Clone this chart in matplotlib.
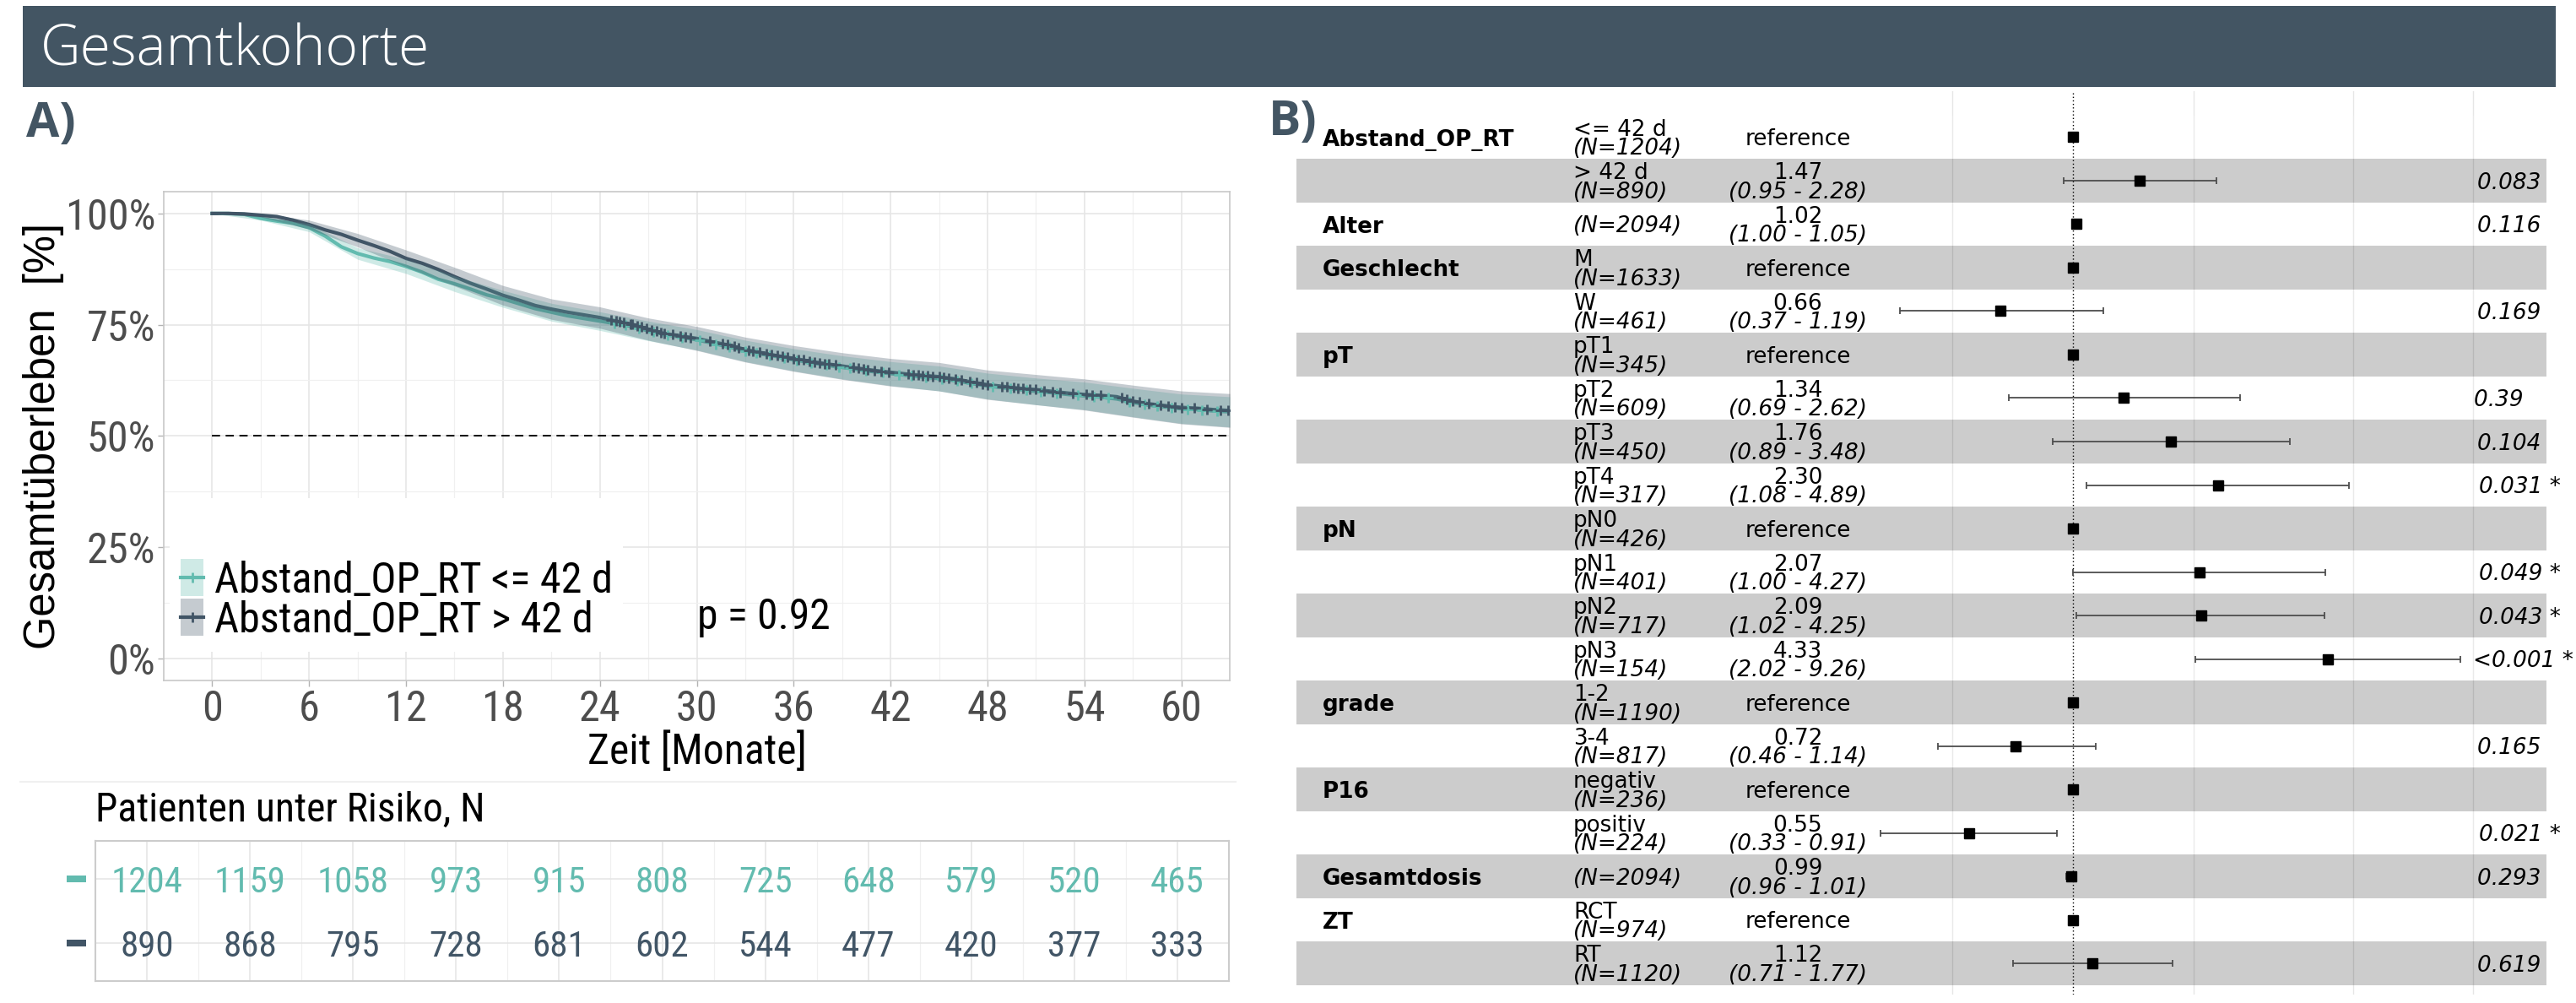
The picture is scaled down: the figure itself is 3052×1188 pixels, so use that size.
import os
import numpy as np
import matplotlib
matplotlib.use("Agg")
import matplotlib.pyplot as plt
import matplotlib.transforms as mtransforms
from matplotlib import font_manager
from matplotlib.font_manager import FontProperties
from matplotlib.textpath import TextPath
from matplotlib.patches import Rectangle
from matplotlib.lines import Line2D

# ------------------------------------------------------------------ data
months = list(range(0, 64))
surv_le42 = [100, 100, 99.8, 98.9, 98.3, 97.8, 96.8, 94.9, 92.5, 91.0,
             90.0, 89.2, 88.1, 86.8, 85.2, 84.2, 83.0, 81.7, 80.8, 79.7,
             78.6, 77.8, 77.0, 76.4, 75.8, 75.2, 74.6, 73.6, 72.8, 72.2,
             71.6, 70.8, 70.0, 69.1, 68.4, 67.8, 67.1, 66.5, 65.9, 65.4,
             64.9, 64.4, 64.0, 63.6, 63.2, 62.9, 62.4, 61.8, 61.2, 60.8,
             60.4, 60.0, 59.7, 59.3, 59.0, 58.7, 58.3, 57.5, 56.9, 56.5,
             56.1, 55.9, 55.6, 55.4]
surv_gt42 = [100, 100, 99.9, 99.6, 99.3, 98.5, 97.5, 96.3, 95.3, 94.0,
             92.8, 91.5, 89.9, 88.8, 87.4, 85.8, 84.3, 83.0, 81.6, 80.5,
             79.3, 78.5, 77.8, 77.2, 76.6, 75.8, 75.1, 74.0, 73.0, 72.5,
             71.9, 71.1, 70.4, 69.4, 68.7, 68.0, 67.4, 66.8, 66.2, 65.7,
             65.2, 64.7, 64.3, 63.9, 63.6, 63.3, 62.8, 62.1, 61.5, 61.1,
             60.7, 60.4, 60.0, 59.6, 59.3, 59.1, 58.8, 57.8, 57.2, 56.8,
             56.4, 56.2, 55.9, 55.7]
ci_months = list(range(0, 64, 3))
ci_hw_le42 = [0, 0.4, 0.9, 1.3, 1.6, 1.75, 1.9, 2.0, 2.1, 2.2, 2.3,
              2.4, 2.5, 2.6, 2.7, 2.8, 2.9, 3.0, 3.1, 3.2, 3.3, 3.4]
ci_hw_gt42 = [0, 0.4, 1.0, 1.5, 1.9, 2.1, 2.2, 2.3, 2.4, 2.5, 2.7,
              2.8, 2.9, 3.0, 3.1, 3.2, 3.3, 3.4, 3.5, 3.6, 3.7, 3.8]
censor_le42 = [24.9, 25.6, 26.4, 27.3, 28.2, 29.1, 30.2, 31.2, 32.0, 33.0,
               33.7, 34.5, 35.4, 36.2, 37.1, 38.0, 38.8, 39.5, 40.5, 41.5,
               42.5, 43.3, 44.2, 45.2, 46.1, 47.0, 48.3, 49.4, 50.4, 51.3,
               52.3, 53.6, 54.6, 55.5, 56.8, 57.7, 58.5, 59.4, 60.4, 61.3, 62.2]
censor_gt42 = [24.7, 25.0, 25.2, 25.5, 25.9, 26.0, 26.3, 26.6, 26.9, 27.2,
               27.5, 27.8, 28.0, 28.5, 29.0, 29.3, 29.6, 30.8, 31.6, 31.9,
               32.3, 32.6, 33.2, 33.5, 33.9, 34.3, 34.6, 35.0, 35.3, 35.6,
               36.0, 36.3, 36.6, 37.0, 37.3, 37.6, 37.9, 38.2, 38.6, 39.7,
               40.0, 40.3, 40.6, 41.0, 41.4, 41.9, 43.1, 43.4, 43.7, 44.0,
               44.3, 44.6, 45.0, 45.3, 45.6, 46.0, 46.4, 46.9, 47.3, 47.7,
               48.0, 48.9, 49.2, 49.6, 49.9, 50.2, 50.6, 51.0, 51.5, 52.0,
               52.5, 53.3, 54.1, 54.5, 55.0, 56.3, 56.6, 57.0, 57.4, 58.0,
               58.7, 59.2, 59.6, 60.0, 60.8, 61.6, 62.4, 62.9]
group_labels = ["Abstand_OP_RT <= 42 d", "Abstand_OP_RT > 42 d"]
p_value_label = "p = 0.92"
x_ticks = list(range(0, 61, 6))
y_ticks = [0, 25, 50, 75, 100]
y_ticklabels = ["0%", "25%", "50%", "75%", "100%"]

risk_times = list(range(0, 61, 6))
risk_le42 = [1204, 1159, 1058, 973, 915, 808, 725, 648, 579, 520, 465]
risk_gt42 = [890, 868, 795, 728, 681, 602, 544, 477, 420, 377, 333]

forest_var = ["Abstand_OP_RT", "", "Alter", "Geschlecht", "", "pT", "", "", "",
              "pN", "", "", "", "grade", "", "P16", "", "Gesamtdosis", "ZT", ""]
forest_level = ["<= 42 d", "> 42 d", "", "M", "W", "pT1", "pT2", "pT3", "pT4",
                "pN0", "pN1", "pN2", "pN3", "1-2", "3-4", "negativ", "positiv",
                "", "RCT", "RT"]
forest_n = [1204, 890, 2094, 1633, 461, 345, 609, 450, 317, 426, 401, 717, 154,
            1190, 817, 236, 224, 2094, 974, 1120]
forest_hr = [1, 1.47, 1.02, 1, 0.66, 1, 1.34, 1.76, 2.30, 1, 2.07, 2.09, 4.33,
             1, 0.72, 1, 0.55, 0.99, 1, 1.12]
forest_lo = [np.nan, 0.95, 1.00, np.nan, 0.37, np.nan, 0.69, 0.89, 1.08, np.nan,
             1.00, 1.02, 2.02, np.nan, 0.46, np.nan, 0.33, 0.96, np.nan, 0.71]
forest_hi = [np.nan, 2.28, 1.05, np.nan, 1.19, np.nan, 2.62, 3.48, 4.89, np.nan,
             4.27, 4.25, 9.26, np.nan, 1.14, np.nan, 0.91, 1.01, np.nan, 1.77]
forest_p = ["", "0.083", "0.116", "", "0.169", "", "0.39", "0.104", "0.031 *", "",
            "0.049 *", "0.043 *", "<0.001 *", "", "0.165", "", "0.021 *", "0.293",
            "", "0.619"]
forest_gridlines = [0.5, 2, 5, 10]

# ------------------------------------------------------------------ fonts
W, H, DPI = 3052, 1188, 100


def find_condensed():
    prefs = ["liberationsansnarrow", "arialnarrow", "robotocondensed", "notosans",
             "opensans", "dejavusans", "lato", "inter", "roboto", "liberation"]
    best = None
    for e in font_manager.fontManager.ttflist:
        if e.style != "normal":
            continue
        w = e.weight
        if not isinstance(w, (int, float)):
            w = font_manager.weight_dict.get(str(w).lower(), 400)
        if w != 400:
            continue
        key = (e.name + " " + os.path.basename(e.fname)).lower()
        for ch in " -_":
            key = key.replace(ch, "")
        if "mono" in key or "serif" in key or "cjk" in key:
            continue
        extra = 0
        if "narrow" in key:
            pass
        elif "semicondensed" in key or e.stretch == "semi-condensed":
            extra = 20
        elif "extracondensed" in key or "ultracondensed" in key:
            continue
        elif "condensed" in key or e.stretch == "condensed":
            pass
        else:
            continue
        rank = 50
        for i, p in enumerate(prefs):
            if p in key:
                rank = i
                break
        rank += extra
        if best is None or rank < best[0]:
            best = (rank, e.fname)
    return best[1] if best else None


cond_path = find_condensed()
REG = FontProperties(family=["Liberation Sans", "DejaVu Sans"])
COND = FontProperties(fname=cond_path) if cond_path else REG

# width scaling so that the condensed font matches an Arial-Narrow-like width
_sample = "Patienten unter Risiko, N 1204 Abstand_OP_RT <= 42 d"
_w_cond = TextPath((0, 0), _sample, size=100, prop=COND).get_extents().width
_w_reg = TextPath((0, 0), _sample, size=100, prop=REG).get_extents().width
KSCALE = float(np.clip(0.82 * _w_reg / _w_cond, 0.78, 1.15))


def kfont(size):
    fp = COND.copy()
    fp.set_size(size * KSCALE)
    return fp


plt.rcParams["font.family"] = ["Liberation Sans", "DejaVu Sans"]

SLATE = "#435563"
TEAL = "#62BBAF"
DARK = "#415566"
colors = [TEAL, DARK]

fig = plt.figure(figsize=(W / DPI, H / DPI), dpi=DPI)
fig.patch.set_facecolor("white")


def fig_rect(x0, y0, x1, y1):
    return [x0 / W, 1 - y1 / H, (x1 - x0) / W, (y1 - y0) / H]


# ------------------------------------------------------------------ header
fig.add_artist(Rectangle((27 / W, 1 - 103 / H), (3028 - 27) / W, 96 / H,
                         transform=fig.transFigure, color=SLATE, lw=0, zorder=0))
fig.text(48 / W, 1 - 78 / H, "Gesamtkohorte", family=["Open Sans", "DejaVu Sans"],
         fontweight="light", fontsize=47.5, color="white", ha="left", va="baseline")
fig.text(31 / W, 1 - 162 / H, "A)", family=["Open Sans", "DejaVu Sans"],
         fontweight="bold", fontsize=41, color=SLATE, ha="left", va="baseline")
fig.text(1503 / W, 1 - 160 / H, "B)", family=["Open Sans", "DejaVu Sans"],
         fontweight="bold", fontsize=41, color=SLATE, ha="left", va="baseline")

# ------------------------------------------------------------------ KM panel
KX0, KY0, KX1, KY1 = 194, 226.5, 1457, 806
ax = fig.add_axes(fig_rect(KX0, KY0, KX1, KY1))


def kfx(px):
    return (px - KX0) / (KX1 - KX0)


def kfy(py):
    return (KY1 - py) / (KY1 - KY0)


ax.set_xlim(-3, 63)
ax.set_ylim(-5, 105)
ax.set_xticks(x_ticks)
ax.set_xticks(np.arange(3, 63, 6), minor=True)
ax.set_yticks(y_ticks)
ax.set_yticklabels(y_ticklabels)
ax.set_yticks([12.5, 37.5, 62.5, 87.5], minor=True)
ax.tick_params(which="major", length=5, width=1, color="#B3B3B3",
               labelcolor="#4D4D4D", pad=2.2)
ax.tick_params(which="minor", length=0)
for lab in ax.get_xticklabels() + ax.get_yticklabels():
    lab.set_fontproperties(kfont(38))
ax.grid(which="major", color="#E6E6E6", lw=1.2)
ax.grid(which="minor", color="#F0F0F0", lw=0.9)
ax.set_axisbelow(True)
for s in ax.spines.values():
    s.set_color("#C8C8C8")
    s.set_linewidth(1.2)

surv = [np.array(surv_le42), np.array(surv_gt42)]
hws = [np.array(ci_hw_le42), np.array(ci_hw_gt42)]
cens = [np.array(censor_le42), np.array(censor_gt42)]

ax.axhline(50, xmin=3 / 66, xmax=1, color="black", lw=1.4, dashes=(5, 3.4), zorder=2)
for S, c in zip(surv, colors):
    ax.plot(months, S, color=c, lw=3.0, zorder=3, solid_joinstyle="round")
for S, hw, c in zip(surv, hws, colors):
    S3 = S[::3]
    ax.fill_between(ci_months, S3 - hw, S3 + hw, color=c, alpha=0.3, lw=0, zorder=4)
for S, ct, c in zip(surv, cens, colors):
    ax.plot(ct, np.interp(ct, months, S), ls="none", marker="+", ms=8.5, mew=2.0,
            color=c, zorder=5)

ax.text(30, 6.6, p_value_label, fontproperties=kfont(37.5), ha="left", va="baseline",
        zorder=8)

# legend (drawn in axes space)
ax.add_patch(Rectangle((kfx(201), kfy(772)), kfx(738) - kfx(201), kfy(590) - kfy(772),
                       transform=ax.transAxes, facecolor="white", lw=0, zorder=6))
for i, (lab, c) in enumerate(zip(group_labels, colors)):
    top = 662 + i * 47
    ax.add_patch(Rectangle((kfx(214), kfy(top + 44)), kfx(241) - kfx(214),
                           kfy(top) - kfy(top + 44), transform=ax.transAxes,
                           facecolor=c, alpha=0.3, lw=0, zorder=7))
    yc = kfy(top + 22)
    ax.add_line(Line2D([kfx(214), kfx(241)], [yc, yc], transform=ax.transAxes,
                       color=c, lw=3.0, zorder=8))
    ax.add_line(Line2D([kfx(227.5)], [yc], transform=ax.transAxes, color=c,
                       marker="+", ms=8.5, mew=2.0, ls="none", zorder=8))
    ax.text(kfx(254), kfy(top + 40), lab, transform=ax.transAxes,
            fontproperties=kfont(38), ha="left", va="baseline", color="black", zorder=8)

ax.set_xlabel("Zeit [Monate]", fontproperties=kfont(37.5), va="center", color="black")
ax.xaxis.set_label_coords(0.5, kfy(891))
ax.set_ylabel("Gesamtüberleben  [%]", fontsize=36.5, va="center", color="black",
              family=["Liberation Sans", "DejaVu Sans"])
ax.yaxis.set_label_coords(kfx(51), 0.5)

# faint separator between plot and risk table
fig.add_artist(Line2D([24 / W, 1464 / W], [1 - 926 / H] * 2, transform=fig.transFigure,
                      color="#F0F0F0", lw=1.5))

# ------------------------------------------------------------------ risk table
RX0, RY0, RX1, RY1 = 113, 996, 1456, 1162
axr = fig.add_axes(fig_rect(RX0, RY0, RX1, RY1))
axr.set_xlim(-3, 63)
axr.set_ylim(2.6, 0.4)
axr.set_xticks(x_ticks)
axr.set_xticks(np.arange(3, 63, 6), minor=True)
axr.set_yticks([1, 2])
axr.tick_params(which="both", length=0, labelbottom=False, labelleft=False)
axr.grid(which="major", color="#E6E6E6", lw=1.2)
axr.grid(which="minor", axis="x", color="#F0F0F0", lw=0.9)
axr.set_axisbelow(True)
for s in axr.spines.values():
    s.set_color("#CCCCCC")
    s.set_linewidth(1.5)

trans_r = mtransforms.blended_transform_factory(axr.transAxes, axr.transData)
for row, (vals, c) in enumerate(zip([risk_le42, risk_gt42], colors), start=1):
    for t, n in zip(risk_times, vals):
        axr.text(t, row + 0.212, str(n), ha="center", va="baseline",
                 fontproperties=kfont(32.5), color=c)
    axr.add_patch(Rectangle(((79 - RX0) / (RX1 - RX0), row - 0.053), 23 / (RX1 - RX0), 0.106,
                            transform=trans_r, color=c, lw=0, clip_on=False))

axr.text(0, (RY1 - 973) / (RY1 - RY0), "Patienten unter Risiko, N", transform=axr.transAxes,
         fontproperties=kfont(36), ha="left", va="baseline", color="black")

# ------------------------------------------------------------------ forest plot
FX0, FY0, FX1, FY1 = 1536, 108, 3017, 1178
axf = fig.add_axes(fig_rect(FX0, FY0, FX1, FY1))
axf.set_xscale("log")
axf.set_xlim(0.01149, 15.23)
axf.set_ylim(20.718, -0.058)
axf.axis("off")

n_rows = len(forest_hr)
rows = np.arange(1, n_rows + 1)
for g in forest_gridlines:
    axf.axvline(g, color="#E6E6E6", lw=1.0, zorder=0)
for r in rows:
    if r % 2 == 0:
        axf.axhspan(r - 0.5, r + 0.5, color="black", alpha=0.2, lw=0, zorder=1)
    else:
        axf.axhspan(r - 0.5, r + 0.5, color="white", alpha=0.2, lw=0, zorder=1)
axf.axvline(1, color="black", lw=1.0, ls=(0, (1, 2)), zorder=2)

hr = np.array(forest_hr, dtype=float)
lo = np.array(forest_lo, dtype=float)
hi = np.array(forest_hi, dtype=float)
has_ci = ~np.isnan(lo)
axf.errorbar(hr[has_ci], rows[has_ci], xerr=[hr[has_ci] - lo[has_ci], hi[has_ci] - hr[has_ci]],
             fmt="none", ecolor="#4D4D4D", elinewidth=1.3, capsize=2.6, capthick=1.3, zorder=3)
axf.plot(hr, rows, ls="none", marker="s", ms=8, color="black", zorder=4)

trans_f = mtransforms.blended_transform_factory(axf.transAxes, axf.transData)
FW = FX1 - FX0
var_x = (1567 - FX0) / FW
lvl_x = (1864 - FX0) / FW
est_x = (2130 - FX0) / FW
p_x = (2918 - FX0) / FW
FFAM = ["DejaVu Sans"]
FS = 18.9
renderer = fig.canvas.get_renderer()

for r, var, lvl, n, h_, l_, u_, p in zip(rows, forest_var, forest_level, forest_n,
                                         hr, lo, hi, forest_p):
    if var:
        axf.text(var_x, r + 0.2, var, transform=trans_f, family=FFAM, fontsize=FS,
                 fontweight="bold", ha="left", va="baseline", zorder=5)
    if lvl:
        axf.text(lvl_x, r - 0.03, lvl, transform=trans_f, family=FFAM, fontsize=FS,
                 ha="left", va="baseline", zorder=5)
        axf.text(lvl_x, r + 0.40, f"(N={n})", transform=trans_f, family=FFAM, fontsize=FS,
                 style="italic", ha="left", va="baseline", zorder=5)
    else:
        axf.text(lvl_x, r + 0.19, f"(N={n})", transform=trans_f, family=FFAM, fontsize=FS,
                 style="italic", ha="left", va="baseline", zorder=5)
    if np.isnan(l_):
        axf.text(est_x, r + 0.19, "reference", transform=trans_f, family=FFAM, fontsize=FS,
                 ha="center", va="baseline", zorder=5)
    else:
        axf.text(est_x, r - 0.03, f"{h_:.2f}", transform=trans_f, family=FFAM, fontsize=FS,
                 ha="center", va="baseline", zorder=5)
        axf.text(est_x, r + 0.40, f"({l_:.2f} - {u_:.2f})", transform=trans_f, family=FFAM,
                 fontsize=FS, style="italic", ha="center", va="baseline", zorder=5)
    if p:
        lab = p if "*" in p else p + " "
        t = axf.text(p_x, r + 0.19, lab, transform=trans_f, family=FFAM, fontsize=FS,
                     style="italic", ha="left", va="baseline", zorder=5, clip_on=False)
        bb = t.get_window_extent(renderer)
        dx = 0.2 * bb.width
        if bb.x1 + dx > W - 3:
            dx = W - 3 - bb.x1
        t.set_transform(trans_f + mtransforms.ScaledTranslation(dx / DPI, 0,
                                                                fig.dpi_scale_trans))

fig.savefig("out.png", dpi=DPI, facecolor="white")
